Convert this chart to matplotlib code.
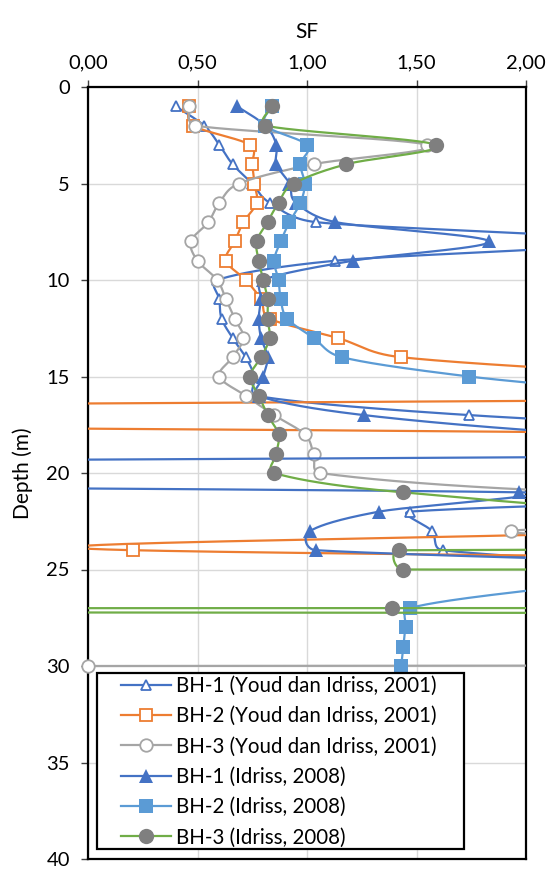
import numpy as np
import matplotlib.pyplot as plt
from matplotlib.lines import Line2D
from matplotlib.patches import Rectangle
from matplotlib.ticker import FuncFormatter

plt.rcParams['font.family'] = ['Lato', 'DejaVu Sans']

# depth (m) of each reading, SF values per borehole / method
depth = list(range(1, 31))

bh1_youd = [0.40, 0.53, 0.60, 0.66, 0.75, 0.83, 1.04, 2.45, 1.13, 0.59,
            0.60, 0.61, 0.66, 0.72, 0.76, 0.77, 1.74, 3.5, 5.0, 5.0,
            4.0, 1.47, 1.57, 1.62, 3.0]
bh2_youd = [0.46, 0.48, 0.74, 0.75, 0.76, 0.77, 0.71, 0.67, 0.63, 0.72,
            0.79, 0.83, 1.14, 1.43, 2.8, 4.7, -7.0, 3.0, 4.0, 4.0,
            3.5, 3.0, 2.6, 0.205, 10.0]
bh3_youd = [0.46, 0.49, 1.55, 1.03, 0.69, 0.60, 0.55, 0.47, 0.50, 0.59,
            0.63, 0.67, 0.71, 0.66, 0.60, 0.72, 0.85, 0.99, 1.03, 1.06,
            2.3, 6.0, 1.93, 5.0, 6.0, 8.0, 10.0, 15.0, 100.0, 0.0]
bh1_idriss = [0.68, 0.81, 0.86, 0.86, 0.92, 0.95, 1.13, 1.83, 1.21, 0.80,
              0.79, 0.78, 0.79, 0.82, 0.80, 0.78, 1.26, 2.3, 4.0, -10.0,
              1.97, 1.33, 1.015, 1.04, 4.0]
bh2_idriss = [0.84, 0.81, 1.00, 0.97, 0.99, 0.97, 0.92, 0.88, 0.85, 0.87,
              0.88, 0.91, 1.03, 1.16, 1.74, 2.6, 3.0, 4.0, 5.0, 5.0,
              5.0, 4.0, 4.0, 3.5, 3.0, 2.08, 1.47, 1.45, 1.44, 1.43]
bh3_idriss = [0.84, 0.81, 1.59, 1.18, 0.94, 0.87, 0.82, 0.77, 0.78, 0.80,
              0.82, 0.82, 0.83, 0.79, 0.74, 0.78, 0.82, 0.87, 0.86, 0.85,
              1.44, 3.0, 50.0, 1.42, 1.44, 1000.0, 1.39, 100.0, 120.0, 120.0]

labels = ['BH-1 (Youd dan Idriss, 2001)', 'BH-2 (Youd dan Idriss, 2001)',
          'BH-3 (Youd dan Idriss, 2001)', 'BH-1 (Idriss, 2008)',
          'BH-2 (Idriss, 2008)', 'BH-3 (Idriss, 2008)']

SX, SY = 219.0, 19.3   # px per unit on screen, smoothing is done in screen space


def excel_smooth(x, y, n=400):
    # bezier smoothing like excel's "smoothed line"
    pts = np.column_stack([np.asarray(x, float) * SX, np.asarray(y, float) * SY])
    out = [pts[:1]]
    m = len(pts)
    t = np.linspace(0, 1, n)[1:, None]
    for i in range(m - 1):
        p0 = pts[i - 1] if i > 0 else pts[i]
        p1, p2 = pts[i], pts[i + 1]
        p3 = pts[i + 2] if i + 2 < m else pts[i + 1]
        d12 = np.hypot(*(p2 - p1))
        d02 = np.hypot(*(p2 - p0))
        d13 = np.hypot(*(p3 - p1))
        f = 1 / 6 if d02 / 6 < d12 / 2 else d12 / 2 / d02
        g = 1 / 6 if d13 / 6 < d12 / 2 else d12 / 2 / d13
        c1 = p1 + f * (p2 - p0)
        c2 = p2 - g * (p3 - p1)
        seg = (1 - t) ** 3 * p1 + 3 * (1 - t) ** 2 * t * c1 + 3 * (1 - t) * t ** 2 * c2 + t ** 3 * p2
        out.append(seg)
    c = np.vstack(out)
    return c[:, 0] / SX, c[:, 1] / SY


W, H = 549, 873
fig = plt.figure(figsize=(W / 100, H / 100), dpi=100)
ax = fig.add_axes([88 / W, (H - 859) / H, (526 - 88) / W, (859 - 87) / H])

blue, orange, grey, lblue, green, dgrey = '#4472C4', '#ED7D31', '#A5A5A5', '#5B9BD5', '#70AD47', '#7F7F7F'

series = [
    (bh1_youd, blue, dict(marker='^', ms=7, mfc='white', mec=blue, mew=1.3)),
    (bh2_youd, orange, dict(marker='s', ms=8, mfc='white', mec=orange, mew=1.3)),
    (bh3_youd, grey, dict(marker='o', ms=9, mfc='white', mec=grey, mew=1.3)),
    (bh1_idriss, blue, dict(marker='^', ms=10, mfc=blue, mec=blue, mew=0)),
    (bh2_idriss, lblue, dict(marker='s', ms=9.5, mfc=lblue, mec=lblue, mew=0)),
    (bh3_idriss, green, dict(marker='o', ms=11, mfc=dgrey, mec=dgrey, mew=0)),
]

handles = []
for k, (vals, col, mk) in enumerate(series):
    d = depth[:len(vals)]
    sx, sy = excel_smooth(vals, d)
    ax.plot(sx, sy, color=col, lw=1.6, zorder=3 + 2 * k, solid_capstyle='round')
    v = np.array(vals)
    dd = np.array(d)
    vis = (v >= -0.02) & (v <= 2.02)
    ax.plot(v[vis], dd[vis], ls='none', zorder=4 + 2 * k, clip_on=False, **mk)
    handles.append(Line2D([], [], color=col, lw=1.6, **mk))

ax.set_xlim(0, 2)
ax.set_ylim(40, 0)
ax.set_xticks([0, 0.5, 1.0, 1.5, 2.0])
ax.set_yticks(range(0, 41, 5))
ax.xaxis.set_major_formatter(FuncFormatter(lambda v, p: f'{v:.2f}'.replace('.', ',')))
ax.xaxis.tick_top()
ax.xaxis.set_label_position('top')
ax.grid(True, color='#D9D9D9', lw=1.0)
ax.set_axisbelow(True)
for s in ax.spines.values():
    s.set_linewidth(1.6)
    s.set_color('black')
ax.tick_params(axis='both', direction='out', length=5, width=1, labelsize=14.5, color='#404040')
ax.tick_params(axis='x', pad=6)
ax.tick_params(axis='y', pad=8)
ax.set_xlabel('SF', fontsize=15, labelpad=12)
ax.set_ylabel('Depth (m)', fontsize=15, labelpad=10)

# legend box
fig.add_artist(Rectangle((97 / W, 1 - 849 / H), (464 - 97) / W, (849 - 673) / H,
                         transform=fig.transFigure, facecolor='white', edgecolor='black',
                         lw=1.6, zorder=20))
fig.legend(handles, labels, loc='upper left', bbox_to_anchor=(121 / W, 1 - 676 / H),
           frameon=False, fontsize=14.8, handlelength=2.45, handletextpad=0.25,
           labelspacing=0.5, borderaxespad=0, borderpad=0).set_zorder(21)

fig.savefig('out.png', dpi=100)
